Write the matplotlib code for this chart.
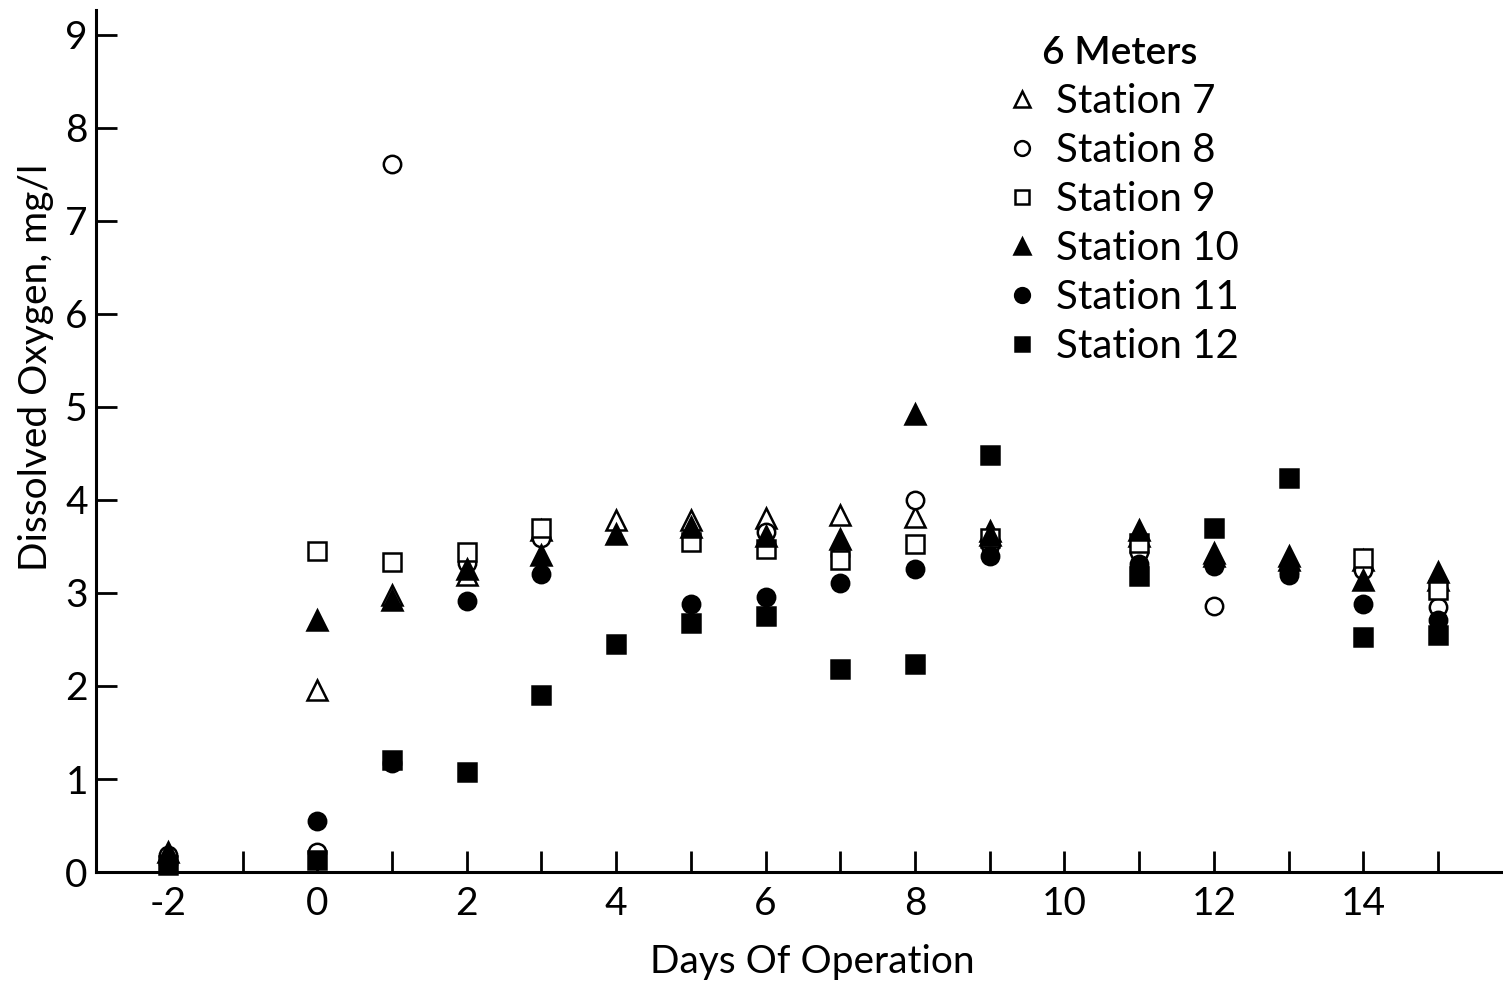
import matplotlib
matplotlib.use("Agg")
import matplotlib.pyplot as plt

FONT = ["Liberation Sans Narrow", "Lato", "DejaVu Sans"]
plt.rcParams["font.family"] = FONT

# dissolved oxygen (mg/l) at 6 meters
st7_days = [0, 1, 2, 3, 4, 5, 6, 7, 8, 9, 11, 12, 13, 14, 15]
st7_do = [1.96, 2.98, 3.19, 3.68, 3.79, 3.78, 3.81, 3.84, 3.82, 3.67, 3.61, 3.43, 3.35, 3.36, 3.14]

st8_days = [-2, 0, 1, 2, 3, 5, 6, 7, 8, 9, 11, 12, 13, 14, 15]
st8_do = [0.18, 0.22, 7.61, 3.32, 3.59, 3.60, 3.66, 3.41, 4.00, 3.52, 3.44, 2.86, 3.23, 3.25, 2.85]

st9_days = [0, 1, 2, 3, 5, 6, 7, 8, 9, 11, 14, 15]
st9_do = [3.45, 3.33, 3.44, 3.70, 3.55, 3.47, 3.35, 3.53, 3.59, 3.54, 3.38, 3.03]

st10_days = [-2, 0, 1, 2, 3, 4, 5, 6, 7, 8, 9, 11, 12, 13, 14, 15]
st10_do = [0.22, 2.71, 2.92, 3.26, 3.41, 3.63, 3.71, 3.61, 3.58, 4.92, 3.62, 3.68, 3.40, 3.40, 3.14, 3.23]

st11_days = [-2, 0, 1, 2, 3, 5, 6, 7, 8, 9, 11, 12, 13, 14, 15]
st11_do = [0.10, 0.55, 1.17, 2.91, 3.20, 2.88, 2.96, 3.11, 3.26, 3.40, 3.31, 3.29, 3.19, 2.88, 2.71]

st12_days = [-2, 0, 1, 2, 3, 4, 5, 6, 7, 8, 9, 11, 12, 13, 14, 15]
st12_do = [0.08, 0.13, 1.20, 1.08, 1.90, 2.45, 2.68, 2.75, 2.18, 2.24, 4.48, 3.18, 3.70, 4.24, 2.53, 2.55]

series = [
    ("Station 7", st7_days, st7_do, "^", "white"),
    ("Station 8", st8_days, st8_do, "o", "white"),
    ("Station 9", st9_days, st9_do, "s", "white"),
    ("Station 10", st10_days, st10_do, "^", "black"),
    ("Station 11", st11_days, st11_do, "o", "black"),
    ("Station 12", st12_days, st12_do, "s", "black"),
]

x_ticks = list(range(-2, 16))
x_labels = [str(d) if d % 2 == 0 else "" for d in x_ticks]
y_ticks = list(range(0, 10))

fig = plt.figure(figsize=(15.03, 9.82), dpi=100)
ax = fig.add_axes([0.064, 0.112, 0.936, 0.878])

for label, days, vals, mk, face in series:
    size = 14 if mk == "^" else 12.5
    ax.plot(days, vals, linestyle="none", marker=mk, markersize=size,
            markerfacecolor=face, markeredgecolor="black", markeredgewidth=1.8,
            label=label, clip_on=False)

ax.set_xlim(-2.96, 15.87)
ax.set_ylim(0, 9.27)

for side in ["top", "right"]:
    ax.spines[side].set_visible(False)
for side in ["left", "bottom"]:
    ax.spines[side].set_linewidth(2.2)

ax.set_xticks(x_ticks)
ax.set_xticklabels(x_labels)
ax.set_yticks(y_ticks)
ax.tick_params(axis="both", direction="in", length=15, width=2.0, labelsize=28)
ax.tick_params(axis="x", pad=10)
ax.tick_params(axis="y", pad=6)
ax.yaxis.get_major_ticks()[0].tick1line.set_visible(False)

ax.set_xlabel("Days Of Operation", fontsize=28)
ax.xaxis.set_label_coords(0.509, -0.083)
ax.set_ylabel("Dissolved Oxygen, mg/l", fontsize=28)
ax.yaxis.set_label_coords(-0.03, 0.585)

leg = ax.legend(loc="upper left", bbox_to_anchor=(0.632, 0.99), frameon=False,
                title="6 Meters", fontsize=29, title_fontsize=28,
                markerscale=0.85, handlelength=1.0, handletextpad=0.35,
                labelspacing=0.3, borderaxespad=0.0)
leg.get_title().set_fontweight("semibold")

fig.savefig("out.png", dpi=100)
